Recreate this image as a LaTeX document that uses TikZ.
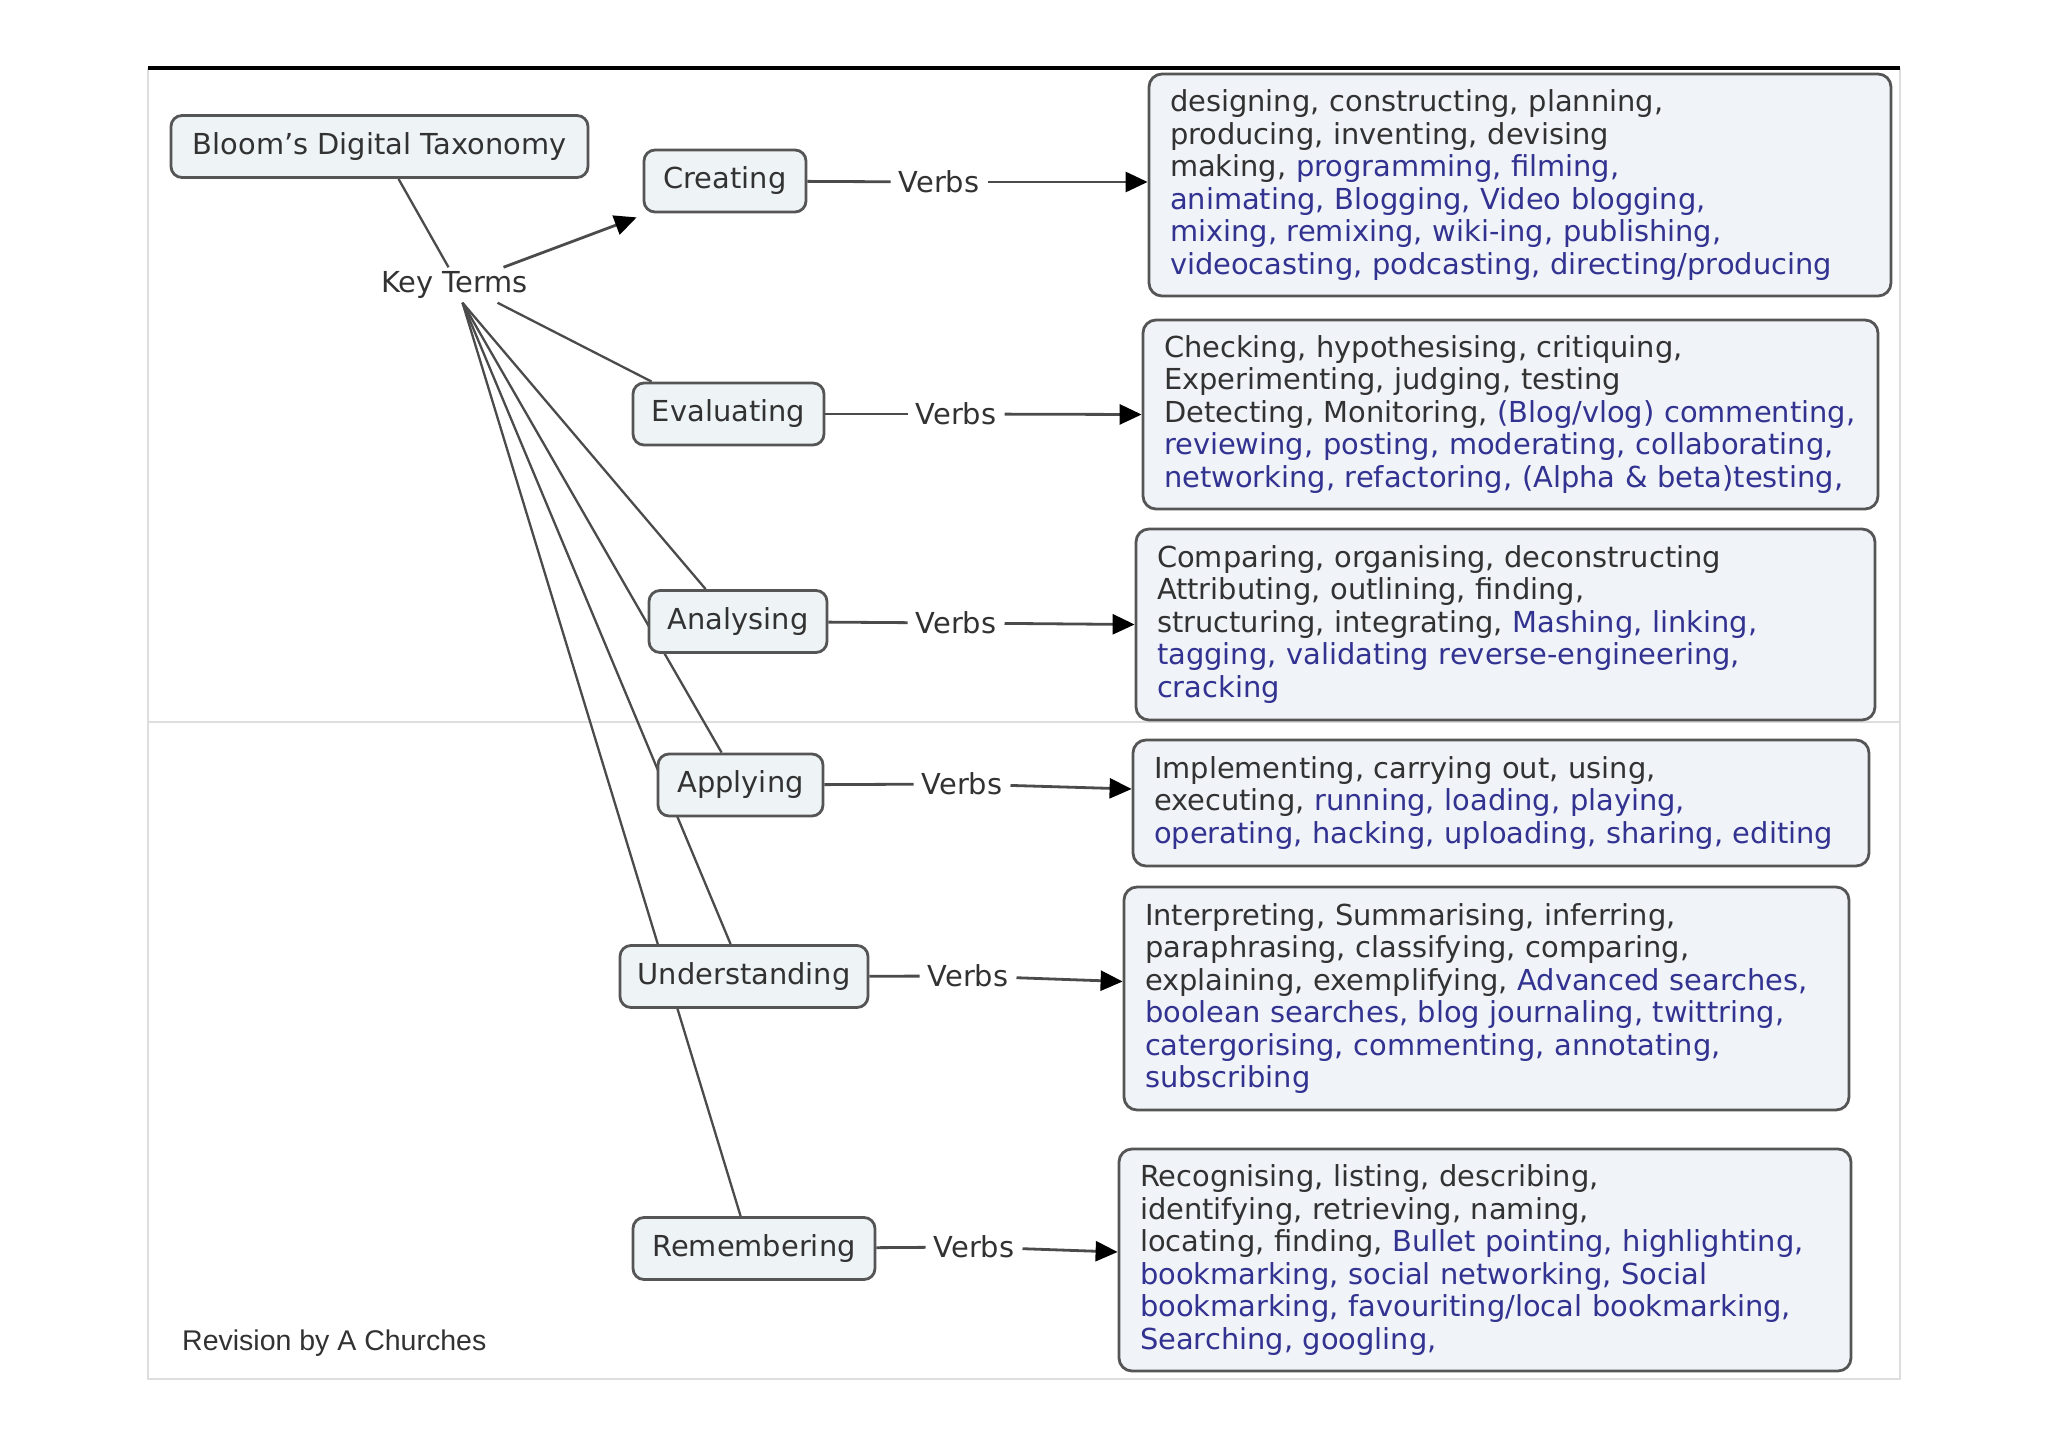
\documentclass[tikz,border=0pt]{standalone}
\usepackage{fontspec}
\setmainfont{DejaVu Sans}
\newfontfamily\revfont{Liberation Sans}
\usetikzlibrary{arrows.meta,calc}
\definecolor{txtgray}{RGB}{50,50,50}
\definecolor{dblue}{RGB}{50,50,145}
\definecolor{boxline}{RGB}{85,85,85}
\definecolor{boxfill}{RGB}{238,243,245}
\definecolor{tboxfill}{RGB}{240,243,248}
\definecolor{connc}{RGB}{75,75,75}
\definecolor{framec}{RGB}{222,222,222}
\pgfdeclarelayer{background}
\pgfsetlayers{background,main}
\newcommand{\bl}[1]{\textcolor{dblue}{#1}}
\begin{document}
\begin{tikzpicture}[x=1pt,y=-1pt,
  every node/.style={font=\fontsize{28.9}{32.5}\selectfont, text=txtgray},
  term/.style={draw=boxline, line width=2.8pt, fill=boxfill, rounded corners=11pt, minimum height=62pt, inner xsep=0pt},
  verbbox/.style={draw=boxline, line width=2.8pt, fill=tboxfill, rounded corners=13pt, inner xsep=21pt, inner ysep=0pt, align=left},
  lbl/.style={inner sep=8pt},
  conn/.style={draw=connc, line width=2.8pt},
  fan/.style={draw=connc, line width=2.3pt},
  arr/.style={conn, -{Triangle[length=22pt,width=20pt,color=black]}},
]
\useasboundingbox (0,0) rectangle (2048,1447);

% key nodes
\node[term, minimum width=417pt] (bloom) at (379.5,146.5) {Bloom’s Digital Taxonomy};
\node[inner sep=4pt] (kt) at (454.5,285) {Key Terms};
\node[term, minimum width=162pt] (cre) at (725,181) {Creating};
\node[term, minimum width=191pt] (eva) at (728.5,414) {Evaluating};
\node[term, minimum width=178pt] (ana) at (738,621.5) {Analysing};
\node[term, minimum width=165pt] (app) at (740.5,785) {Applying};
\node[term, minimum width=248pt] (und) at (744,976.5) {Understanding};
\node[term, minimum width=242pt] (rem) at (754,1248.5) {Remembering};

% verb boxes
\node[verbbox, text width=700pt, minimum height=222pt] (t1) at (1520,185) {%
\mbox{designing, constructing, planning,}\\
\mbox{producing, inventing, devising}\\
\mbox{making, \bl{programming, filming,}}\\
\mbox{\bl{animating, Blogging, Video blogging,}}\\
\mbox{\bl{mixing, remixing, wiki-ing, publishing,}}\\
\mbox{\bl{videocasting, podcasting, directing/producing}}};
\node[verbbox, text width=693pt, minimum height=189pt] (t2) at (1510.5,414.5) {%
\mbox{Checking, hypothesising, critiquing,}\\
\mbox{Experimenting, judging, testing}\\
\mbox{Detecting, Monitoring, \bl{(Blog/vlog) commenting,}}\\
\mbox{\bl{reviewing, posting, moderating, collaborating,}}\\
\mbox{\bl{networking, refactoring, (Alpha \& beta)testing,}}};
\node[verbbox, text width=697pt, minimum height=191pt] (t3) at (1505.5,624.5) {%
\mbox{Comparing, organising, deconstructing}\\
\mbox{Attributing, outlining, finding,}\\
\mbox{structuring, integrating, \bl{Mashing, linking,}}\\
\mbox{\bl{tagging, validating reverse-engineering,}}\\
\mbox{\bl{cracking}}};
\node[verbbox, text width=694pt, minimum height=126pt] (t4) at (1501,803) {%
\mbox{Implementing, carrying out, using,}\\
\mbox{executing, \bl{running, loading, playing,}}\\
\mbox{\bl{operating, hacking, uploading, sharing, editing}}};
\node[verbbox, text width=683pt, minimum height=223pt] (t5) at (1486.5,998.5) {%
\mbox{Interpreting, Summarising, inferring,}\\
\mbox{paraphrasing, classifying, comparing,}\\
\mbox{explaining, exemplifying, \bl{Advanced searches,}}\\
\mbox{\bl{boolean searches, blog journaling, twittring,}}\\
\mbox{\bl{catergorising, commenting, annotating,}}\\
\mbox{\bl{subscribing}}};
\node[verbbox, text width=690pt, minimum height=222pt] (t6) at (1485,1260) {%
\mbox{Recognising, listing, describing,}\\
\mbox{identifying, retrieving, naming,}\\
\mbox{locating, finding, \bl{Bullet pointing, highlighting,}}\\
\mbox{\bl{bookmarking, social networking, Social}}\\
\mbox{\bl{bookmarking, favouriting/local bookmarking,}}\\
\mbox{\bl{Searching, googling,}}};

% verbs labels
\node[lbl] (v1) at (939,182) {Verbs};
\node[lbl] (v2) at (956,414) {Verbs};
\node[lbl] (v3) at (956,623) {Verbs};
\node[lbl] (v4) at (962,784) {Verbs};
\node[lbl] (v5) at (968,976) {Verbs};
\node[lbl] (v6) at (974,1247) {Verbs};

\node[font=\revfont\fontsize{28.5}{32}\selectfont, text=txtgray, anchor=west, inner sep=0pt] (rev) at (182,1343) {Revision by A Churches};

% background: frame and fan lines
\begin{pgfonlayer}{background}
  \coordinate (ftl) at (148,68);
  \coordinate (ftr) at (1900,68);
  \coordinate (fbl) at (148,1379);
  \coordinate (fbr) at (1900,1379);
  \coordinate (fml) at (148,722);
  \coordinate (fmr) at (1900,722);
  \draw[framec, line width=1.6pt] (ftl) -- (fbl) -- (fbr) -- (ftr);
  \draw[framec, line width=1.4pt] (fml) -- (fmr);
  \draw[fan] ([xshift=19pt]bloom.south) -- ([xshift=-6pt]kt.north);
  \draw[fan] ([xshift=43pt]kt.south) -- ([xshift=20pt]eva.north west);
  \draw[fan] ([xshift=8pt]kt.south) -- ([xshift=58pt]ana.north west);
  \draw[fan] ([xshift=8pt]kt.south) -- ([xshift=65pt]app.north west);
  \draw[fan] ([xshift=8pt]kt.south) -- ([xshift=112pt]und.north west);
  \draw[fan] ([xshift=8pt]kt.south) -- ([xshift=109pt]rem.north west);
\end{pgfonlayer}
\draw[black, line width=4.5pt] (ftl) -- (ftr);

% connectors
\draw[arr] ([xshift=49pt]kt.north) -- ([xshift=-6pt,yshift=-4pt]cre.south west);
\draw[conn] (cre) -- (v1);
\draw[conn] (eva) -- (v2);
\draw[conn] (ana) -- (v3);
\draw[conn] (app) -- (v4);
\draw[conn] (und) -- (v5);
\draw[conn] (rem) -- (v6);
\draw[arr] (v1) -- ([yshift=3pt]t1.west);
\draw[arr] (v2) -- (t2.west);
\draw[arr] (v3) -- (t3.west);
\draw[arr] (v4) -- ([yshift=14pt]t4.west);
\draw[arr] (v5) -- ([yshift=17pt]t5.west);
\draw[arr] (v6) -- ([yshift=8pt]t6.west);
\end{tikzpicture}
\end{document}
